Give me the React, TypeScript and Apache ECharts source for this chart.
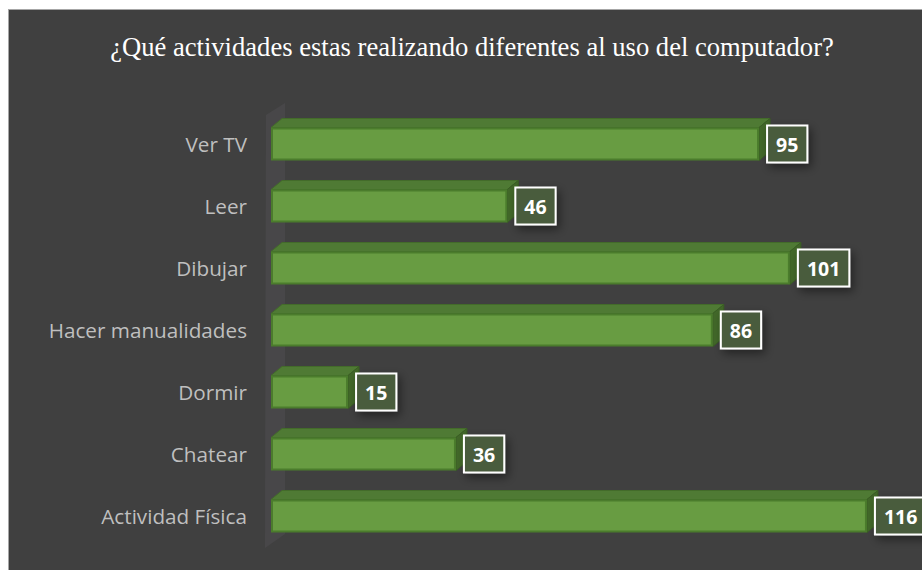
import React, { useEffect, useRef } from "react";
import * as echarts from "echarts";

const titleText = "¿Qué actividades estas realizando diferentes al uso del computador?";
const categories = ["Ver TV", "Leer", "Dibujar", "Hacer manualidades", "Dormir", "Chatear", "Actividad Física"];
const values = [95, 46, 101, 86, 15, 36, 116];

const OX = 9;
const OY = 10;

export default function App() {
  const ref = useRef<HTMLDivElement>(null);
  useEffect(() => {
    if (!ref.current) return;
    const chart = echarts.init(ref.current, undefined, { renderer: "svg" });
    const barH = 33;
    const dx = 11;
    const dy = -9;
    chart.setOption({
      animation: false,
      backgroundColor: "#404040",
      graphic: [
        {
          type: "polygon",
          z: -5,
          shape: {
            points: [
              [266 - OX, 115 - OY],
              [285 - OX, 103 - OY],
              [285 - OX, 534 - OY],
              [265 - OX, 548 - OY],
            ],
          },
          style: { fill: "#484749" },
        },
        {
          type: "text",
          x: 472 - OX,
          y: 47 - OY,
          style: {
            text: titleText,
            fill: "#ffffff",
            font: "26.6px 'Liberation Serif', serif",
            textAlign: "center",
            textVerticalAlign: "middle",
          },
        },
      ],
      grid: { left: 271 - OX, right: 34.5, top: 113 - OY, bottom: 23, containLabel: false },
      xAxis: {
        type: "value",
        min: 0,
        max: 120,
        show: false,
        splitLine: { show: false },
      },
      yAxis: {
        type: "category",
        data: categories,
        inverse: true,
        axisLine: { show: false },
        axisTick: { show: false },
        splitLine: { show: false },
        axisLabel: {
          color: "#bfbfbf",
          fontSize: 20.7,
          fontFamily: "'Open Sans', sans-serif",
          margin: 24,
        },
      },
      series: [
        {
          type: "custom",
          z: 2,
          data: values.map((v, i) => [v, i]),
          encode: { x: 0, y: 1 },
          renderItem: (params: any, api: any) => {
            const v = api.value(0);
            const i = api.value(1);
            const p0 = api.coord([0, i]);
            const p1 = api.coord([v, i]);
            const x0 = p0[0];
            const x1 = p1[0];
            const yT = p1[1] - barH / 2;
            const yB = p1[1] + barH / 2;
            return {
              type: "group",
              children: [
                {
                  type: "polygon",
                  shape: {
                    points: [
                      [x0, yT],
                      [x1, yT],
                      [x1 + dx, yT + dy],
                      [x0 + dx, yT + dy],
                    ],
                  },
                  style: { fill: "#4f7a34", stroke: "#436b2a", lineWidth: 1 },
                },
                {
                  type: "polygon",
                  shape: {
                    points: [
                      [x1, yT],
                      [x1 + dx, yT + dy],
                      [x1 + dx, yB + dy],
                      [x1, yB],
                    ],
                  },
                  style: { fill: "#426829", stroke: "#3a5e24", lineWidth: 1 },
                },
              ],
            };
          },
        },
        {
          type: "bar",
          z: 3,
          data: values,
          barWidth: barH,
          itemStyle: {
            color: "#689c42",
            borderColor: "#4b7c2c",
            borderWidth: 2,
          },
          label: {
            show: true,
            position: "right",
            distance: 9,
            color: "#ffffff",
            fontWeight: "bold",
            fontSize: 19.5,
            lineHeight: 22,
            fontFamily: "'Open Sans', sans-serif",
            backgroundColor: "#4a5b3d",
            borderColor: "#ffffff",
            borderWidth: 2,
            padding: [7, 8, 6, 8],
            shadowColor: "rgba(0,0,0,0.45)",
            shadowBlur: 10,
            shadowOffsetX: 3,
            shadowOffsetY: 4,
          },
        },
      ],
    });
    return () => chart.dispose();
  }, []);

  return (
    <div style={{ position: "absolute", left: 0, top: 0, width: 922, height: 570, background: "#ffffff" }}>
      <div
        style={{
          position: "absolute",
          left: OX - 1,
          top: OY - 1,
          width: 922 - OX + 1,
          height: 570 - OY + 1,
          boxSizing: "border-box",
          borderTop: "1px solid #a6a6a6",
          borderLeft: "1px solid #a6a6a6",
        }}
      />
      <div ref={ref} style={{ position: "absolute", left: OX, top: OY, width: 922 - OX, height: 570 - OY }} />
    </div>
  );
}
